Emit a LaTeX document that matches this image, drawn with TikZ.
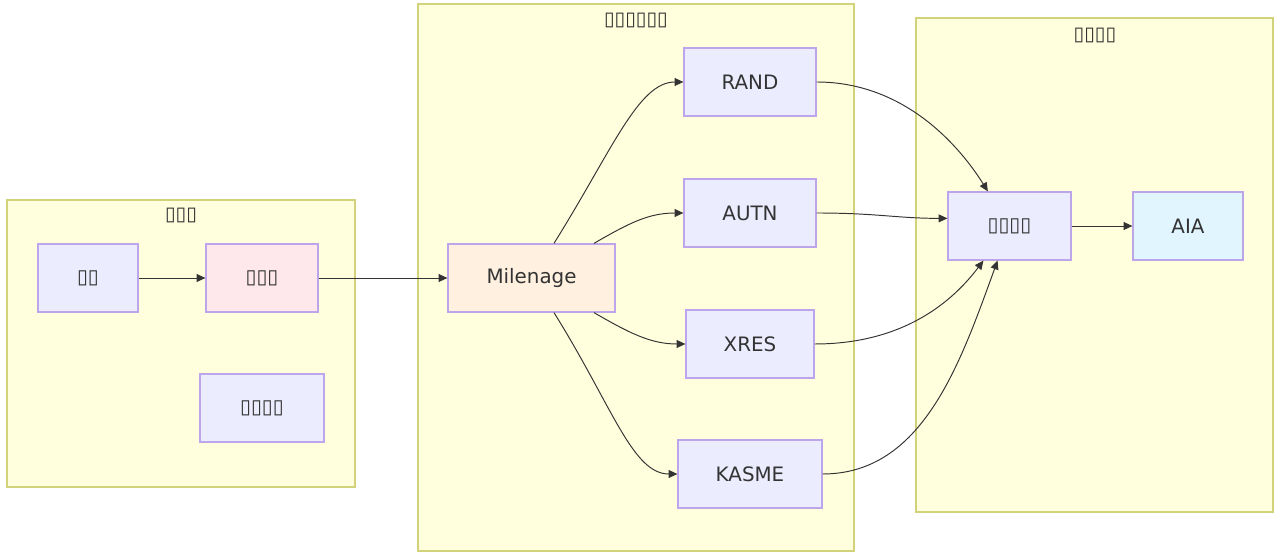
\documentclass[tikz,border=0pt]{standalone}
\usepackage{fontspec}
\setmainfont{DejaVu Sans}
\usetikzlibrary{arrows.meta,positioning}
\definecolor{clfill}{HTML}{FFFFDE}
\definecolor{cldraw}{HTML}{D2D27A}
\definecolor{ndfill}{HTML}{ECECFF}
\definecolor{nddraw}{HTML}{BDA5EC}
\definecolor{opfill}{HTML}{FFE8EC}
\definecolor{milfill}{HTML}{FFF0E0}
\definecolor{aiafill}{HTML}{E1F5FE}
\definecolor{txt}{HTML}{333333}
\newcommand{\tofu}[1]{\foreach \i in {1,...,#1}{\char"25AF}}

\begin{document}
\begin{tikzpicture}[x=0.02cm, y=0.02cm,
  cluster/.style={rectangle, draw=cldraw, fill=clfill, line width=0.8pt, inner sep=0pt},
  title/.style={text=txt, font=\fontsize{11}{13}\selectfont},
  box/.style={rectangle, draw=nddraw, fill=ndfill, line width=0.7pt, minimum height=1.36cm,
    inner sep=0pt, text=txt, font=\fontsize{11.3}{13}\selectfont},
  arr/.style={draw=txt, line width=0.55pt, -{Triangle[length=5pt,width=4.5pt]}}]

  \useasboundingbox (0,0) rectangle (1276,-553);

  % Gruppen
  \node[cluster, minimum width=6.96cm, minimum height=5.74cm] (side) at (181,-343.5) {};
  \node[cluster, minimum width=8.72cm, minimum height=10.94cm] (gen) at (636,-277.5) {};
  \node[cluster, minimum width=7.14cm, minimum height=9.88cm] (out) at (1094.5,-265) {};
  \node[title] (sidet) at (181,-215) {\tofu{3}};
  \node[title] (gent) at (636,-20) {\tofu{6}};
  \node[title] (outt) at (1095,-35) {\tofu{4}};

  % Knoten
  \node[box, minimum width=2cm] (key) at (88,-278) {\tofu{2}};
  \node[box, fill=opfill, minimum width=2.24cm] (op) at (262,-278) {\tofu{3}};
  \node[box, minimum width=2.48cm] (sqn) at (262,-408) {\tofu{4}};
  \node[box, fill=milfill, minimum width=3.34cm] (mil) at (531.5,-278) {Milenage};
  \node[box, minimum width=2.64cm] (rand) at (750,-82) {RAND};
  \node[box, minimum width=2.64cm] (autn) at (750,-213) {AUTN};
  \node[box, minimum width=2.56cm] (xres) at (750,-344) {XRES};
  \node[box, minimum width=2.88cm] (kasme) at (750,-474) {KASME};
  \node[box, minimum width=2.46cm] (vec) at (1009.5,-226) {\tofu{4}};
  \node[box, fill=aiafill, minimum width=2.2cm] (aia) at (1188,-226) {AIA};

  % Kanten
  \draw[arr] (key) -- (op);
  \draw[arr] (op) -- (mil);
  \draw[arr] (mil.57) .. controls +(58:110) and +(180:45) .. (rand.west);
  \draw[arr] (mil.29) .. controls +(30:40) and +(180:35) .. (autn.west);
  \draw[arr] (mil.-29) .. controls +(-30:40) and +(180:35) .. (xres.west);
  \draw[arr] (mil.-57) .. controls +(-58:110) and +(180:45) .. (kasme.west);
  \draw[arr] (rand.east) .. controls +(0:90) and +(122:50) .. (vec.122);
  \draw[arr] (autn.east) .. controls +(0:60) and +(180:50) .. (vec.173);
  \draw[arr] (xres.east) .. controls +(0:90) and +(-127:50) .. (vec.233);
  \draw[arr] (kasme.east) .. controls +(0:100) and +(-110:110) .. (vec.251);
  \draw[arr] (vec) -- (aia);
\end{tikzpicture}
\end{document}
